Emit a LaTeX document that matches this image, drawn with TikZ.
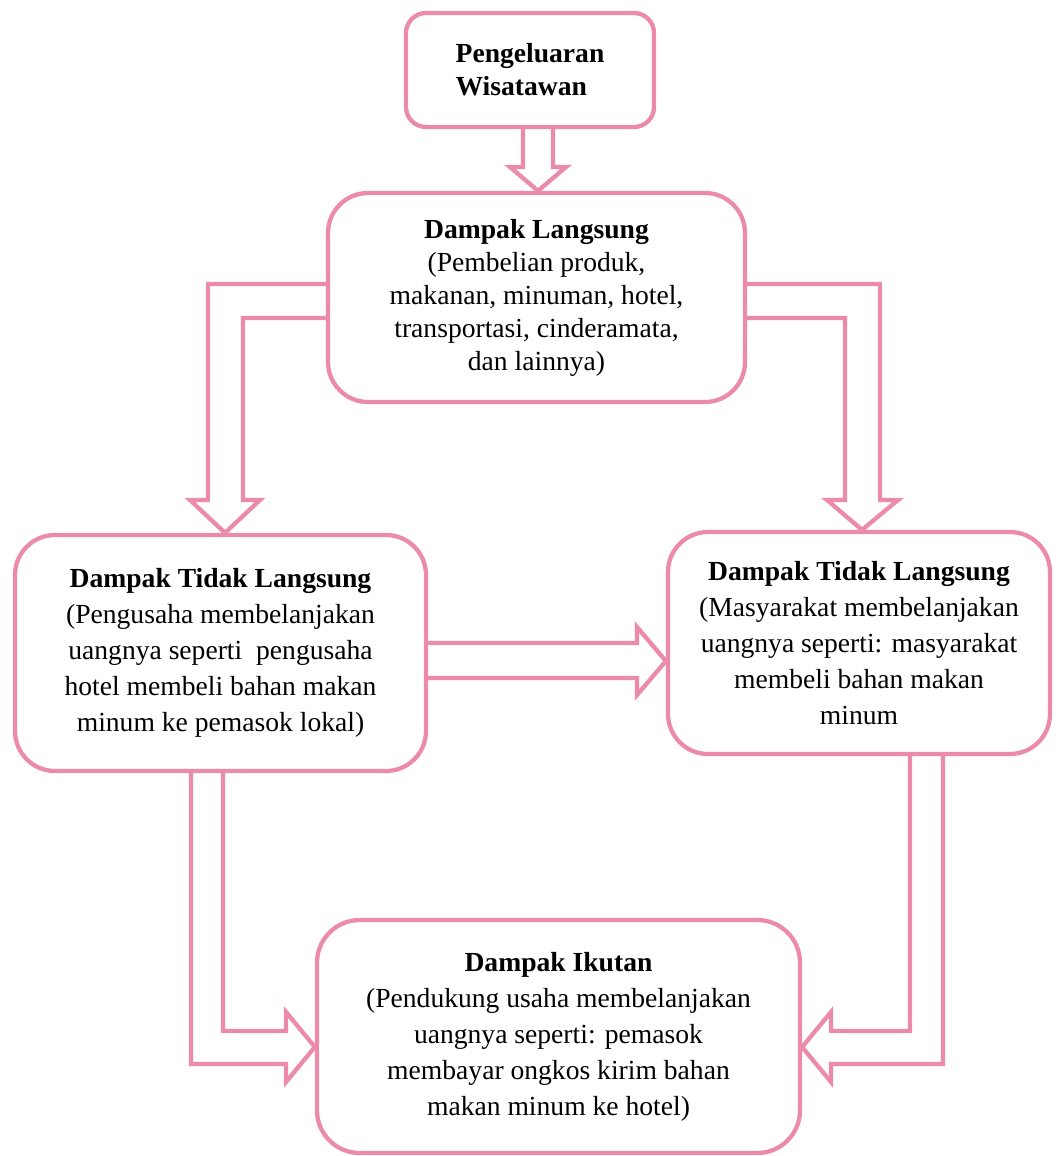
\documentclass[tikz,border=0pt]{standalone}
\usepackage{fontspec}
\setmainfont{Liberation Serif}
\definecolor{pk}{RGB}{236,138,170}
\begin{document}
\begin{tikzpicture}[x=0.75pt,y=-0.75pt,
  box/.style={draw=pk, line width=3.2pt, fill=white, inner sep=0pt, align=center,
    font=\fontsize{20.7pt}{27pt}\selectfont},
  blk/.style={draw=pk, line width=3.2pt, line join=miter}]
\fill[white] (0,0) rectangle (1058,1156);
\useasboundingbox (0,0) rectangle (1058,1156);

\node[box, rounded corners=15pt, minimum width=186pt, minimum height=85.5pt,
  align=left, font=\fontsize{20.7pt}{24.75pt}\selectfont\bfseries]
  (top) at (530,70) {Pengeluaran\\Wisatawan};

\node[box, rounded corners=30pt, minimum width=312.75pt, minimum height=156.75pt,
  font=\fontsize{20.7pt}{24.75pt}\selectfont]
  (dl) at (536.5,297.5) {\textbf{Dampak Langsung}\\(Pembelian produk,\\makanan, minuman, hotel,\\transportasi, cinderamata,\\dan lainnya)};

\node[box, rounded corners=30pt, minimum width=308.25pt, minimum height=177pt]
  (left) at (220.5,653) {\textbf{Dampak Tidak Langsung}\\(Pengusaha membelanjakan\\uangnya seperti\ \ pengusaha\\hotel membeli bahan makan\\minum ke pemasok lokal)};

\node[box, rounded corners=30pt, minimum width=286.5pt, minimum height=166.5pt]
  (right) at (859,643) {\textbf{Dampak Tidak Langsung}\\(Masyarakat membelanjakan\\uangnya seperti: masyarakat\\membeli bahan makan\\minum};

\node[box, rounded corners=32pt, minimum width=362.25pt, minimum height=174.75pt]
  (bottom) at (558.5,1036.5) {\textbf{Dampak Ikutan}\\(Pendukung usaha membelanjakan\\uangnya seperti: pemasok\\membayar ongkos kirim bahan\\makan minum ke hotel)};

% top -> dl
\draw[blk] (523,0 |- top.south) -- (523,167) -- (510,167) -- (538,0 |- dl.north)
  -- (566,167) -- (553,167) -- (553,0 |- top.south);
% dl -> left
\draw[blk] (dl.west |- 0,284) -- (208,284) -- (208,500) -- (190,500)
  -- (225,0 |- left.north) -- (260,500) -- (243,500) -- (243,318) -- (dl.west |- 0,318);
% dl -> right
\draw[blk] (dl.east |- 0,284) -- (880,284) -- (880,500) -- (898,500)
  -- (862,0 |- right.north) -- (827,500) -- (845,500) -- (845,318) -- (dl.east |- 0,318);
% left -> right
\draw[blk] (left.east |- 0,643) -- (637,643) -- (637,627) -- (right.west |- 0,661)
  -- (637,695) -- (637,678) -- (left.east |- 0,678);
% left -> bottom
\draw[blk] (223,0 |- left.south) -- (223,1031) -- (286,1031) -- (286,1012)
  -- (bottom.west |- 0,1047) -- (286,1082) -- (286,1064) -- (191,1064) -- (191,0 |- left.south);
% right -> bottom
\draw[blk] (910,0 |- right.south) -- (910,1031) -- (831,1031) -- (831,1012)
  -- (bottom.east |- 0,1047) -- (831,1082) -- (831,1064) -- (943,1064) -- (943,0 |- right.south);
\end{tikzpicture}
\end{document}
